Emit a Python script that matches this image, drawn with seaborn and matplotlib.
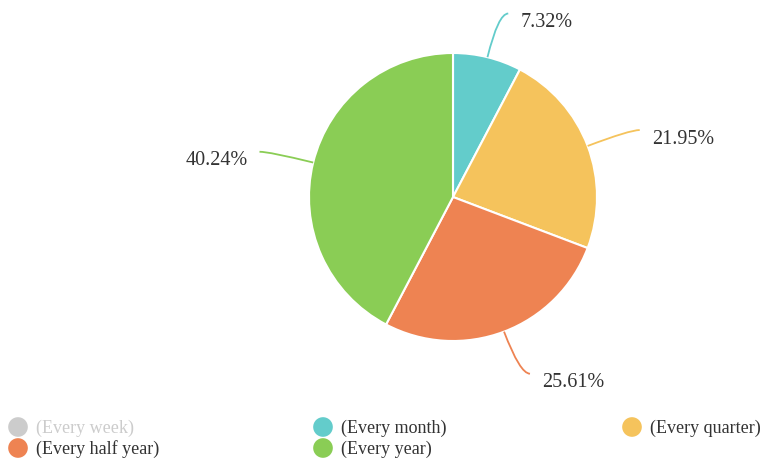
import numpy as np
import matplotlib
matplotlib.use("Agg")
import matplotlib.pyplot as plt
from matplotlib.path import Path
from matplotlib.patches import PathPatch
import seaborn as sns

sns.set_theme(style="white")
plt.rcParams["font.family"] = ["Liberation Serif", "DejaVu Serif"]

# ── data ─────────────────────────────────────
categories = ["(Every week)", "(Every month)", "(Every quarter)",
              "(Every half year)", "(Every year)"]
percent = [4.88, 7.32, 21.95, 25.61, 40.24]
shown = [False, True, True, True, True]   # week is switched off in the legend
colors = ["#c8c8c8", "#63cccb", "#f5c35c", "#ee8352", "#8acd55"]

pie_vals = [p for p, s in zip(percent, shown) if s]
pie_cols = [c for c, s in zip(colors, shown) if s]
pie_labels = [f"{p:.2f}%" for p in pie_vals]

# ── figure in pixel coordinates ──────────────
W, H = 766, 464
fig = plt.figure(figsize=(W / 100, H / 100), dpi=100)
ax = fig.add_axes([0, 0, 1, 1])

cx, cy, R = 453, H - 198, 144
wedges, _ = ax.pie(pie_vals, colors=pie_cols, startangle=90, counterclock=False,
                   center=(cx, cy), radius=R, normalize=True, frame=True,
                   wedgeprops=dict(edgecolor="white", linewidth=1.5))
ax.set_xlim(0, W)
ax.set_ylim(0, H)
ax.axis("off")

# leader lines + labels
for w, lab, col in zip(wedges, pie_labels, pie_cols):
    mid = np.deg2rad((w.theta1 + w.theta2) / 2)
    dx, dy = np.cos(mid), np.sin(mid)
    p0 = (cx + R * dx, cy + R * dy)
    p1 = (cx + (R + 45) * dx, cy + (R + 45) * dy)
    side = 1 if dx >= 0 else -1
    p2 = (p1[0] + side * 10, p1[1])
    path = Path([p0, p1, p2], [Path.MOVETO, Path.CURVE3, Path.CURVE3])
    ax.add_patch(PathPatch(path, fill=False, edgecolor=col, lw=1.3))
    ax.text(p2[0] + side * 12, p2[1] - 8, lab, ha="left" if side > 0 else "right",
            va="center", fontsize=14.5, color="#333333")

# legend (row-major, three columns)
col_x = [18, 323, 632]
row_y = [H - 428, H - 449]
for i, (name, col, s) in enumerate(zip(categories, colors, shown)):
    r, c = divmod(i, 3)
    ax.scatter(col_x[c], row_y[r], s=200, color=col if s else "#cccccc",
               edgecolors="none", zorder=3)
    ax.text(col_x[c] + 18, row_y[r], name, va="center", ha="left",
            fontsize=13, color="#333333" if s else "#cccccc")

fig.savefig("out.png", dpi=100)
